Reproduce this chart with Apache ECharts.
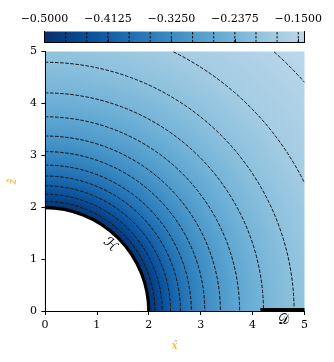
<!DOCTYPE html>
<html><head><meta charset="utf-8">
<script src="https://cdn.jsdelivr.net/npm/echarts@6/dist/echarts.min.js"></script>
<style>html,body{margin:0;padding:0;background:#fff}#c{width:334px;height:362px}</style>
</head><body><div id="c"></div>
<script>
// ---- data ----
const contourLevels = [-0.5000,-0.4708,-0.4417,-0.4125,-0.3833,-0.3542,-0.3250,-0.2958,-0.2667,-0.2375,-0.2083,-0.1792,-0.1500];
const contourRadii  = [2.00, 2.12, 2.26, 2.42, 2.61, 2.82, 3.08, 3.38, 3.75, 4.21, 4.80, 5.58, 6.67];
const innerEdgeValue = -0.488;
const cornerRadius = 7.07;
const cornerValue = -0.1414;
const colorbarTicks = [-0.5000,-0.4125,-0.3250,-0.2375,-0.1500];
const colorbarRange = [-0.5000, -0.1414];
const xTicks = [0,1,2,3,4,5];
const yTicks = [0,1,2,3,4,5];
const horizonRadius = [2.0];
const domainSegment = [4.15, 5.0];
const labelH = [1.26, 1.28];
const labelD = [4.59, -0.17];

// ---- style ----
const normRange = [-0.5, 0];
const blues = ['#f7fbff','#deebf7','#c6dbef','#9ecae1','#6baed6','#4292c6','#2171b5','#08519c','#08306b'];
function hex2rgb(h){return [1,3,5].map(i=>parseInt(h.substr(i,2),16));}
function colorOf(v){
  let s = (normRange[1]-v)/(normRange[1]-normRange[0]);
  s = Math.max(0, Math.min(1, s));
  const p = s*(blues.length-1);
  const i = Math.min(Math.floor(p), blues.length-2);
  const f = p - i;
  const a = hex2rgb(blues[i]), b = hex2rgb(blues[i+1]);
  const c = a.map((x,k)=>Math.round(x+(b[k]-x)*f));
  return 'rgb('+c.join(',')+')';
}
const FONT = 'DejaVu Serif';
const fmt = v => (v<0?'\u2212':'') + Math.abs(v).toFixed(4);
const xMin = xTicks[0], xMax = xTicks[xTicks.length-1];
const yMin = yTicks[0], yMax = yTicks[yTicks.length-1];
const dash = [3.5, 1.6];

const chart = echarts.init(document.getElementById('c'), null, {renderer:'canvas'});
const axisCommon = {
  axisLine:{show:true, lineStyle:{color:'#000', width:1}},
  splitLine:{show:false}
};
chart.setOption({
  animation:false,
  grid:[
    {left:44.5, top:51.5, width:260, height:260},
    {left:44.5, top:31.5, width:260, height:11}
  ],
  xAxis:[
    Object.assign({gridIndex:0, type:'value', min:xMin, max:xMax, interval:1, position:'bottom', z:10,
      axisTick:{show:true, inside:false, length:3.5, lineStyle:{color:'#000'}},
      axisLabel:{color:'#000', fontFamily:FONT, fontSize:11, margin:8},
      name:'x\u0302', nameLocation:'middle', nameGap:29,
      nameTextStyle:{color:'#ffa500', fontFamily:FONT, fontStyle:'italic', fontSize:11}}, axisCommon),
    Object.assign({gridIndex:0, type:'value', min:xMin, max:xMax, position:'top', z:10,
      axisTick:{show:false}, axisLabel:{show:false}}, axisCommon),
    Object.assign({gridIndex:1, type:'value', min:colorbarRange[0], max:colorbarRange[1], position:'top', z:10,
      axisTick:{show:true, length:3.5, customValues:colorbarTicks, lineStyle:{color:'#000'}},
      axisLabel:{color:'#000', fontFamily:FONT, fontSize:11, margin:7, customValues:colorbarTicks, formatter:fmt}}, axisCommon),
    Object.assign({gridIndex:1, type:'value', min:colorbarRange[0], max:colorbarRange[1], position:'bottom', z:10,
      axisTick:{show:false}, axisLabel:{show:false}}, axisCommon)
  ],
  yAxis:[
    Object.assign({gridIndex:0, type:'value', min:yMin, max:yMax, interval:1, position:'left', z:10,
      axisTick:{show:true, inside:false, length:3.5, lineStyle:{color:'#000'}},
      axisLabel:{color:'#000', fontFamily:FONT, fontSize:11, margin:8},
      name:'\u1E91', nameLocation:'middle', nameGap:22,
      nameTextStyle:{color:'#ffa500', fontFamily:FONT, fontStyle:'italic', fontSize:11}}, axisCommon),
    Object.assign({gridIndex:0, type:'value', min:yMin, max:yMax, position:'right', z:10,
      axisTick:{show:false}, axisLabel:{show:false}}, axisCommon),
    Object.assign({gridIndex:1, type:'value', min:0, max:1, position:'left', z:10,
      axisTick:{show:false}, axisLabel:{show:false}}, axisCommon),
    Object.assign({gridIndex:1, type:'value', min:0, max:1, position:'right', z:10,
      axisTick:{show:false}, axisLabel:{show:false}}, axisCommon)
  ],
  series:[
    // colour field
    {type:'custom', xAxisIndex:0, yAxisIndex:0, z:1, silent:true, data:[[xMin,yMin]],
     renderItem(params, api){
       const o = api.coord([xMin,yMin]);
       const tr = api.coord([xMax,yMax]);
       const R = api.size([cornerRadius,0])[0];
       const stops = [{offset:0, color:colorOf(innerEdgeValue)}];
       contourRadii.forEach((r,i)=>stops.push({offset:r/cornerRadius, color:colorOf(i===0?innerEdgeValue:contourLevels[i])}));
       stops.push({offset:1, color:colorOf(cornerValue)});
       return {type:'rect', shape:{x:o[0], y:tr[1], width:tr[0]-o[0], height:o[1]-tr[1]},
         style:{fill:{type:'radial', x:o[0], y:o[1], r:R, colorStops:stops, global:true}}};
     }},
    // excluded disk
    {type:'custom', xAxisIndex:0, yAxisIndex:0, z:2, silent:true, data:horizonRadius.map(r=>[r,0]),
     renderItem(params, api){
       const o = api.coord([0,0]);
       const r = api.size([api.value(0),0])[0];
       return {type:'sector', shape:{cx:o[0], cy:o[1], r0:0, r:r, startAngle:-Math.PI/2, endAngle:0, clockwise:true},
         style:{fill:'#fff'}};
     }},
    // contour lines
    {type:'custom', xAxisIndex:0, yAxisIndex:0, z:3, silent:true, data:contourRadii.map(r=>[r,0]),
     renderItem(params, api){
       const rv = api.value(0);
       const o = api.coord([0,0]);
       const r = api.size([rv,0])[0];
       let a0 = -Math.PI/2, a1 = 0;
       if (rv > xMax) {
         a0 = -Math.asin(yMax/rv);
         a1 = -Math.acos(xMax/rv);
       }
       return {type:'arc', shape:{cx:o[0], cy:o[1], r:r, startAngle:a0, endAngle:a1, clockwise:true},
         style:{stroke:'#111', fill:null, lineWidth:1, lineDash:dash}};
     }},
    // horizon arc (thick)
    {type:'custom', xAxisIndex:0, yAxisIndex:0, z:4, silent:true, data:horizonRadius.map(r=>[r,0]),
     renderItem(params, api){
       const o = api.coord([0,0]);
       const r = api.size([api.value(0),0])[0];
       return {type:'arc', shape:{cx:o[0], cy:o[1], r:r, startAngle:-Math.PI/2, endAngle:0, clockwise:true},
         style:{stroke:'#000', fill:null, lineWidth:3.2}};
     }},
    // domain segment
    {type:'custom', xAxisIndex:0, yAxisIndex:0, z:4, silent:true, data:[[domainSegment[0],0,domainSegment[1]]],
     renderItem(params, api){
       const a = api.coord([api.value(0),0]);
       const b = api.coord([api.value(2),0]);
       return {type:'rect', shape:{x:a[0], y:a[1]-3.5, width:b[0]-a[0], height:3.5}, style:{fill:'#000'}};
     }},
    // labels
    {type:'custom', xAxisIndex:0, yAxisIndex:0, z:5, silent:true, data:[labelH.concat([0]), labelD.concat([1])],
     renderItem(params, api){
       const p = api.coord([api.value(0), api.value(1)]);
       const isH = api.value(2) === 0;
       return {type:'text', x:p[0], y:p[1], rotation: isH ? -Math.PI/4 : 0,
         style:{text: isH ? '\u210B' : '\uD835\uDC9F', fill:'#000', font:'14px "DejaVu Sans"',
           align:'center', verticalAlign:'middle'}};
     }},
    // colorbar
    {type:'custom', xAxisIndex:2, yAxisIndex:2, z:2, silent:true, data:[[colorbarRange[0],0]],
     renderItem(params, api){
       const a = api.coord([colorbarRange[0],1]);
       const b = api.coord([colorbarRange[1],0]);
       const span = colorbarRange[1]-colorbarRange[0];
       const stops = contourLevels.map(v=>({offset:(v-colorbarRange[0])/span, color:colorOf(v)}));
       stops.push({offset:1, color:colorOf(colorbarRange[1])});
       return {type:'rect', shape:{x:a[0], y:a[1], width:b[0]-a[0], height:b[1]-a[1]},
         style:{fill:{type:'linear', x:a[0], y:0, x2:b[0], y2:0, colorStops:stops, global:true}}};
     }},
    {type:'custom', xAxisIndex:2, yAxisIndex:2, z:3, silent:true, data:contourLevels.map(v=>[v,0]),
     renderItem(params, api){
       const a = api.coord([api.value(0),0]);
       const b = api.coord([api.value(0),1]);
       return {type:'line', shape:{x1:a[0], y1:a[1], x2:b[0], y2:b[1]},
         style:{stroke:'#111', lineWidth:1, lineDash:[2.5,1.5]}};
     }}
  ]
});
</script></body></html>
